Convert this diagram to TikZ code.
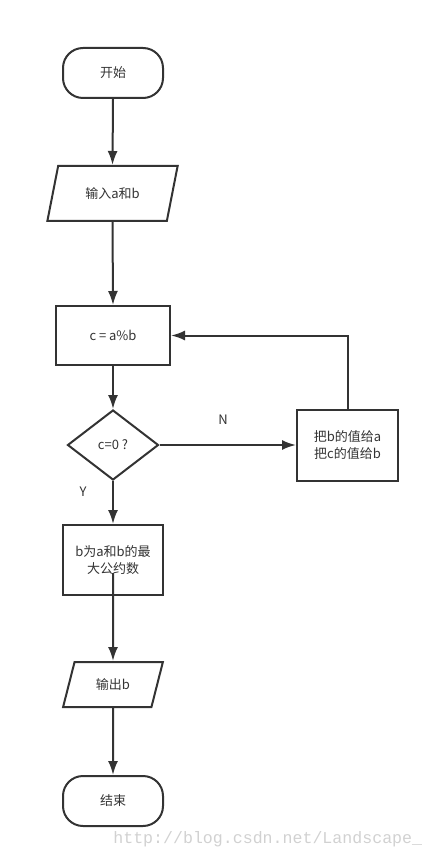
\documentclass[tikz,border=0pt]{standalone}
\usepackage{fontspec}
\newfontfamily\cjk{Noto Sans CJK SC}
\newfontfamily\wmfont{Liberation Mono}
\usetikzlibrary{arrows.meta, calc, shapes.geometric, positioning}
\tikzset{>={Latex[length=14pt, width=10pt]}}
\definecolor{ink}{HTML}{333333}
\tikzset{term-r/.style = {draw, rounded corners=20pt, minimum width=100pt, minimum height=50pt}}
\tikzset{proc-r/.style = {draw, rectangle, align=center}}
\tikzset{io-p/.style = {draw, trapezium, trapezium left angle=72, trapezium right angle=108, trapezium stretches=true}}
\tikzset{dec-d/.style = {draw, diamond, aspect=1.3, inner sep=0pt}}

\begin{document}
\begin{tikzpicture}[x=1pt, y=-1pt, line width=2pt, color=ink, font=\cjk\fontsize{13}{17}\selectfont]
  \useasboundingbox (0,0) rectangle (430,858);
  \node[term-r] (start) at (113,73) {开始};
  \node[io-p, minimum width=131pt, minimum height=55pt] (input) at (112.5,193.5) {输入a和b};
  \node[proc-r, minimum width=114pt, minimum height=59pt] (calc) at (113,335.5) {c = a\%b};
  \node[dec-d, minimum width=91pt, minimum height=70pt] (cond) at (113,445) {c=0 ?};
  \node[proc-r, minimum width=101pt, minimum height=71pt] (swap) at (347.5,445) {把b的值给a\\把c的值给b};
  \node[proc-r, minimum width=100pt, minimum height=70pt] (res) at (113,560) {b为a和b的最\\大公约数};
  \node[io-p, minimum width=100pt, minimum height=45pt] (out) at (113,684.5) {输出b};
  \node[term-r] (end) at (113,801) {结束};
  \node (nlab) at (223,420) {N};
  \node (ylab) at (83,492) {Y};
  \coordinate (resin) at ($(res.center)+(0,13)$);
  \node[text=black!18, font=\wmfont\fontsize{16.6}{18}\selectfont, anchor=base west] (wm) at (109,843) {http://blog.csdn.net/Landscape\_};

  \foreach \i/\o in {start.south/input.north, input.south/calc.north, calc.south/cond.north,
    cond.east/swap.west, cond.south/res.north, resin/out.north, out.south/end.north}
  {
    \draw[->] (\i) -- (\o);
  }
  \draw[->] (swap.north) |- (calc.east);
\end{tikzpicture}
\end{document}
